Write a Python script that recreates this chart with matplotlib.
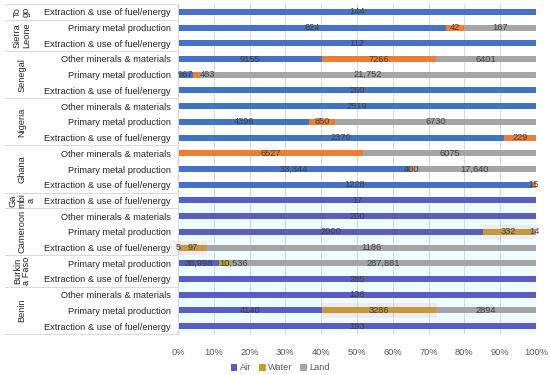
import numpy as np
import matplotlib
matplotlib.use('Agg')
import matplotlib.pyplot as plt
from matplotlib.patches import Patch, Rectangle
from matplotlib.transforms import blended_transform_factory

plt.rcParams['font.family'] = ['Liberation Sans', 'DejaVu Sans']

# rows from top to bottom
countries = ['Togo', 'Sierra Leone', 'Sierra Leone', 'Senegal', 'Senegal', 'Senegal',
             'Nigeria', 'Nigeria', 'Nigeria', 'Ghana', 'Ghana', 'Ghana', 'Gambia',
             'Cameroon', 'Cameroon', 'Cameroon', 'Burkina Faso', 'Burkina Faso',
             'Benin', 'Benin', 'Benin']
categories = ['Extraction & use of fuel/energy', 'Primary metal production', 'Extraction & use of fuel/energy',
              'Other minerals & materials', 'Primary metal production', 'Extraction & use of fuel/energy',
              'Other minerals & materials', 'Primary metal production', 'Extraction & use of fuel/energy',
              'Other minerals & materials', 'Primary metal production', 'Extraction & use of fuel/energy',
              'Extraction & use of fuel/energy',
              'Other minerals & materials', 'Primary metal production', 'Extraction & use of fuel/energy',
              'Primary metal production', 'Extraction & use of fuel/energy',
              'Other minerals & materials', 'Primary metal production', 'Extraction & use of fuel/energy']
air = [144, 624, 112, 9155, 967, 260, 2519, 4396, 2370, 0, 33344, 1228, 17,
       200, 2000, 5, 38998, 285, 136, 4140, 193]
water = [0, 42, 0, 7266, 483, 0, 0, 850, 229, 6527, 400, 15, 0,
         0, 332, 97, 10536, 0, 0, 3286, 0]
land = [0, 167, 0, 6401, 21752, 0, 0, 6730, 0, 6075, 17640, 0, 0,
        0, 14, 1186, 287881, 0, 0, 2894, 0]

# wrapped country labels as shown on the axis
country_labels = {'Togo': 'To\ngo', 'Sierra Leone': 'Sierra\nLeone', 'Gambia': 'Ga\nmbi\na',
                  'Burkina Faso': 'Burkin\na Faso'}
# second colour scheme starts from Gambia downwards
second_part = ['Gambia', 'Cameroon', 'Burkina Faso', 'Benin']
# highlighted (row, first segment, last segment)
highlights = [(15, 0, 1), (14, 1, 2), (19, 1, 1)]
# labels moved sideways so they don't collide (row, segment): shift in %
nudges = {(4, 1): 3.0, (16, 1): 2.3}

cols_a = ['#4472C4', '#ED7D31', '#A5A5A5']
cols_b = ['#5B5BC4', '#BBA12F', '#A5A5A5']

vals = np.array([air, water, land], dtype=float).T
pct = vals / vals.sum(axis=1, keepdims=True) * 100
n = len(countries)
y = np.arange(n)

fig = plt.figure(figsize=(5.5, 3.75), dpi=100)
ax = fig.add_axes([178/550, 1-334/375, 358/550, 330/375])

first_b = countries.index(second_part[0])
ax.axhspan(first_b - 0.5, n - 0.5, color='#EDFCFC', zorder=0, lw=0)

h = 0.38
left = np.zeros(n)
for k in range(3):
    colors = [cols_b[k] if c in second_part else cols_a[k] for c in countries]
    ax.barh(y, pct[:, k], left=left, height=h, color=colors, zorder=2)
    for i in range(n):
        v = vals[i, k]
        if v > 0:
            txt = f'{int(v):,}' if v >= 10000 else str(int(v))
            xc = left[i] + pct[i, k] / 2 + nudges.get((i, k), 0)
            ax.text(xc, y[i], txt, ha='center', va='center',
                    fontsize=6.7, color='#404040', zorder=4)
    left = left + pct[:, k]

starts = np.cumsum(np.hstack([np.zeros((n, 1)), pct]), axis=1)
for r, s0, s1 in highlights:
    x0 = starts[r, s0]
    x1 = starts[r, s1 + 1]
    if s0 == 0:
        x0 -= 2
    ax.add_patch(Rectangle((x0, r - 0.45), x1 - x0 + 0.3, 0.9, facecolor='#FF6F9F',
                           alpha=0.12, lw=0, zorder=3, clip_on=False))

ax.set_xlim(0, 100)
ax.set_ylim(n - 0.5, -0.5)
ax.set_xticks(np.arange(0, 101, 10))
ax.set_xticklabels([f'{t}%' for t in range(0, 101, 10)])
ax.set_yticks(y)
ax.set_yticklabels(categories)
ax.tick_params(axis='x', length=0, labelsize=6.7, labelcolor='#595959', pad=10)
ax.tick_params(axis='y', length=0, labelsize=6.7, labelcolor='#262626', pad=5)
ax.grid(axis='x', color='#D9D9D9', lw=0.7, zorder=1)
for s in ['top', 'right', 'bottom']:
    ax.spines[s].set_visible(False)
ax.spines['left'].set_color('#D9D9D9')
ax.spines['left'].set_linewidth(0.7)

# country group labels and separators
trans = blended_transform_factory(ax.transAxes, ax.transData)
x_sep = (5 - 178) / 358
groups = []
for i, c in enumerate(countries):
    if not groups or groups[-1][0] != c:
        groups.append([c, i, i])
    else:
        groups[-1][2] = i
for c, a, b in groups:
    ax.text((22 - 178) / 358, (a + b) / 2, country_labels.get(c, c), rotation=90,
            ha='center', va='center', fontsize=6.7, color='#262626',
            linespacing=1.0, transform=trans, clip_on=False)
    for yy in (a - 0.5, b + 0.5):
        ax.plot([x_sep, 0], [yy, yy], color='#D9D9D9', lw=0.7, transform=trans, clip_on=False)

handles = [Patch(facecolor=c) for c in cols_b]
fig.legend(handles, ['Air', 'Water', 'Land'], loc='center', bbox_to_anchor=(0.51, 1 - 368/375),
           ncol=3, frameon=False, fontsize=6.7, handlelength=0.7, handleheight=0.7,
           handletextpad=0.3, columnspacing=0.8, labelcolor='#595959')

fig.savefig('out.png', dpi=100)
